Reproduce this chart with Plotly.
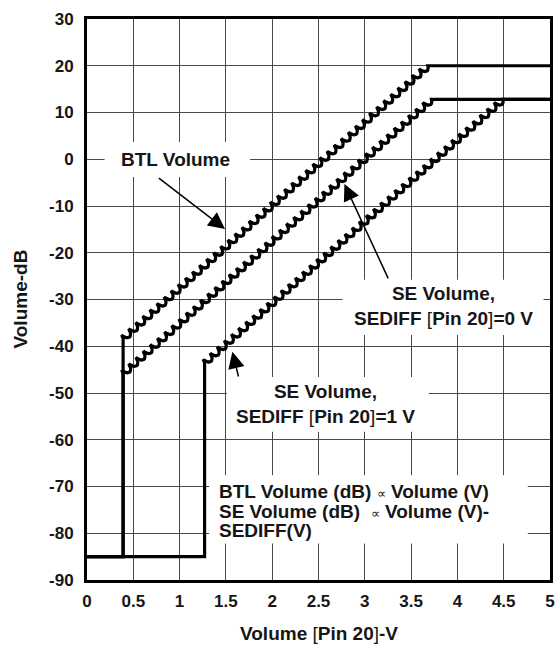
import numpy as np
import plotly.graph_objects as go

# ---- figure geometry -------------------------------------------------------
W, H = 560, 653
MARGIN = dict(l=87, r=5, t=19, b=73)
X_RANGE = [0, 5]
Y_RANGE = [-90, 30]
PX_PER_X = (W - MARGIN["l"] - MARGIN["r"]) / (X_RANGE[1] - X_RANGE[0])
PX_PER_Y = (H - MARGIN["t"] - MARGIN["b"]) / (Y_RANGE[1] - Y_RANGE[0])

FONT = "Liberation Sans, Arial, Helvetica, sans-serif"
INK = "#161616"

# ---- data: volume transfer curves (break points) ---------------------------
x_ticks = [0, 0.5, 1, 1.5, 2, 2.5, 3, 3.5, 4, 4.5, 5]
x_tick_text = ["0", "0.5", "1", "1.5", "2", "2.5", "3", "3.5", "4", "4.5", "5"]
y_ticks = [30, 20, 10, 0, -10, -20, -30, -40, -50, -60, -70, -80, -90]
y_tick_text = ["30", "20", "10", "0", "-10", "-20", "-30", "-40", "-50", "-60", "-70", "-80", "-90"]

btl_x = [0.0, 0.39, 0.39, 3.68, 5.0]
btl_y = [-85.0, -85.0, -38.3, 20.0, 20.0]

se0_x = [0.0, 0.39, 0.39, 3.72, 5.0]
se0_y = [-85.0, -85.0, -45.8, 12.8, 12.8]

se1_x = [0.0, 1.27, 1.27, 4.49, 5.0]
se1_y = [-85.0, -85.0, -43.5, 12.8, 12.8]

# index of the segment drawn as a rippled ramp
RAMP_SEGMENT = 2


def ripple(x0, y0, x1, y1, period=9.6, amp=3.4, curl=1.4):
    """Rippled segment in data units; ripple size is set in screen pixels."""
    X0, Y0 = x0 * PX_PER_X, y0 * PX_PER_Y
    X1, Y1 = x1 * PX_PER_X, y1 * PX_PER_Y
    L = np.hypot(X1 - X0, Y1 - Y0)
    n = max(1, int(round(L / period)))
    t = np.linspace(0.0, 1.0, n * 24 + 1)
    ux, uy = (X1 - X0) / L, (Y1 - Y0) / L
    nx, ny = -uy, ux
    th = 2 * np.pi * n * t
    off = amp * np.sin(th)
    along = curl * (np.cos(th) - 1.0)
    X = X0 + t * (X1 - X0) + nx * off + ux * along
    Y = Y0 + t * (Y1 - Y0) + ny * off + uy * along
    return X / PX_PER_X, Y / PX_PER_Y


def curve(xs, ys, seg=RAMP_SEGMENT):
    px, py = [], []
    for i in range(len(xs) - 1):
        if i == seg:
            rx, ry = ripple(xs[i], ys[i], xs[i + 1], ys[i + 1])
            px.extend(rx.tolist())
            py.extend(ry.tolist())
        else:
            px.extend([xs[i], xs[i + 1]])
            py.extend([ys[i], ys[i + 1]])
    return px, py


fig = go.Figure()
for name, xs, ys in [("BTL", btl_x, btl_y), ("SE 0 V", se0_x, se0_y), ("SE 1 V", se1_x, se1_y)]:
    cx, cy = curve(xs, ys)
    fig.add_trace(go.Scatter(
        x=cx, y=cy, mode="lines", name=name,
        line=dict(color="black", width=3.2),
        hoverinfo="skip", showlegend=False,
    ))

# ---- white label backgrounds (above grid, below curves) --------------------
label_boxes = [
    (0.19, 3.7, 1.76, -3.8),
    (2.76, -25.8, 4.93, -37.6),
    (1.51, -46.6, 3.69, -58.3),
    (1.32, -67.6, 4.76, -82.2),
]
for x0, y0, x1, y1 in label_boxes:
    fig.add_shape(type="rect", x0=x0, y0=y0, x1=x1, y1=y1, xref="x", yref="y",
                  fillcolor="white", line=dict(width=0), layer="between")

LBL = dict(family=FONT, size=19, color=INK, weight="bold")
thin_l = '<span style="font-weight:normal">[</span>'
thin_r = '<span style="font-weight:normal">]</span>'
prop = '<span style="font-size:13px;font-weight:normal">∝</span>'

annotations = [
    dict(x=0.96, y=0.0, text="BTL Volume", xanchor="center", yanchor="middle"),
    dict(x=3.85, y=-31.4, text=f"SE Volume,<br>SEDIFF {thin_l}Pin 20{thin_r}=0 V",
         xanchor="center", yanchor="middle"),
    dict(x=2.58, y=-52.3, text=f"SE Volume,<br>SEDIFF {thin_l}Pin 20{thin_r}=1 V",
         xanchor="center", yanchor="middle"),
    dict(x=1.40, y=-71.0, text=f"BTL Volume (dB) {prop} Volume (V)",
         xanchor="left", yanchor="middle"),
    dict(x=1.40, y=-75.3, text=f"SE Volume (dB)  {prop} Volume (V)-",
         xanchor="left", yanchor="middle"),
    dict(x=1.40, y=-79.5, text="SEDIFF(V)", xanchor="left", yanchor="middle"),
]
for a in annotations:
    fig.add_annotation(xref="x", yref="y", showarrow=False, font=LBL, **a)

# pointer arrows: (tail x, tail y) -> (tip x, tip y)
arrows = [
    (0.76, -3.8, 1.49, -14.9),
    (3.26, -25.8, 2.78, -5.3),
    (1.64, -46.8, 1.57, -41.2),
]
for tx, ty, hx, hy in arrows:
    fig.add_annotation(x=hx, y=hy, ax=tx, ay=ty, xref="x", yref="y", axref="x", ayref="y",
                       text="", showarrow=True, arrowhead=2, arrowsize=2.2, arrowwidth=1.5,
                       arrowcolor="black", standoff=0, startstandoff=0)

# axis titles
TITLE = dict(family=FONT, size=19, color=INK, weight="bold")
fig.add_annotation(xref="paper", yref="paper", x=0.5, y=0.0, yshift=-53,
                   text=f"Volume {thin_l}Pin 20{thin_r}-V", showarrow=False, font=TITLE,
                   xanchor="center", yanchor="middle")
fig.add_annotation(xref="paper", yref="paper", x=0, y=0.5, xshift=-67,
                   text="Volume-dB", textangle=-90, showarrow=False, font=TITLE,
                   xanchor="center", yanchor="middle")

TICKFONT = dict(family=FONT, size=17, color=INK, weight="bold")
fig.update_xaxes(range=X_RANGE, tickvals=x_ticks, ticktext=x_tick_text, tickfont=TICKFONT,
                 showgrid=True, gridcolor="#4a4a4a", gridwidth=1, zeroline=False,
                 showline=True, linecolor="black", linewidth=3, mirror=True, ticks="",
                 ticklabelstandoff=4)
fig.update_yaxes(range=Y_RANGE, tickvals=y_ticks, ticktext=y_tick_text, tickfont=TICKFONT,
                 showgrid=True, gridcolor="#4a4a4a", gridwidth=1, zeroline=False,
                 showline=True, linecolor="black", linewidth=3, mirror=True, ticks="",
                 ticklabelstandoff=7)

fig.update_layout(width=W, height=H, margin=MARGIN, plot_bgcolor="white",
                  paper_bgcolor="white", showlegend=False)

fig.write_html("out.html")
